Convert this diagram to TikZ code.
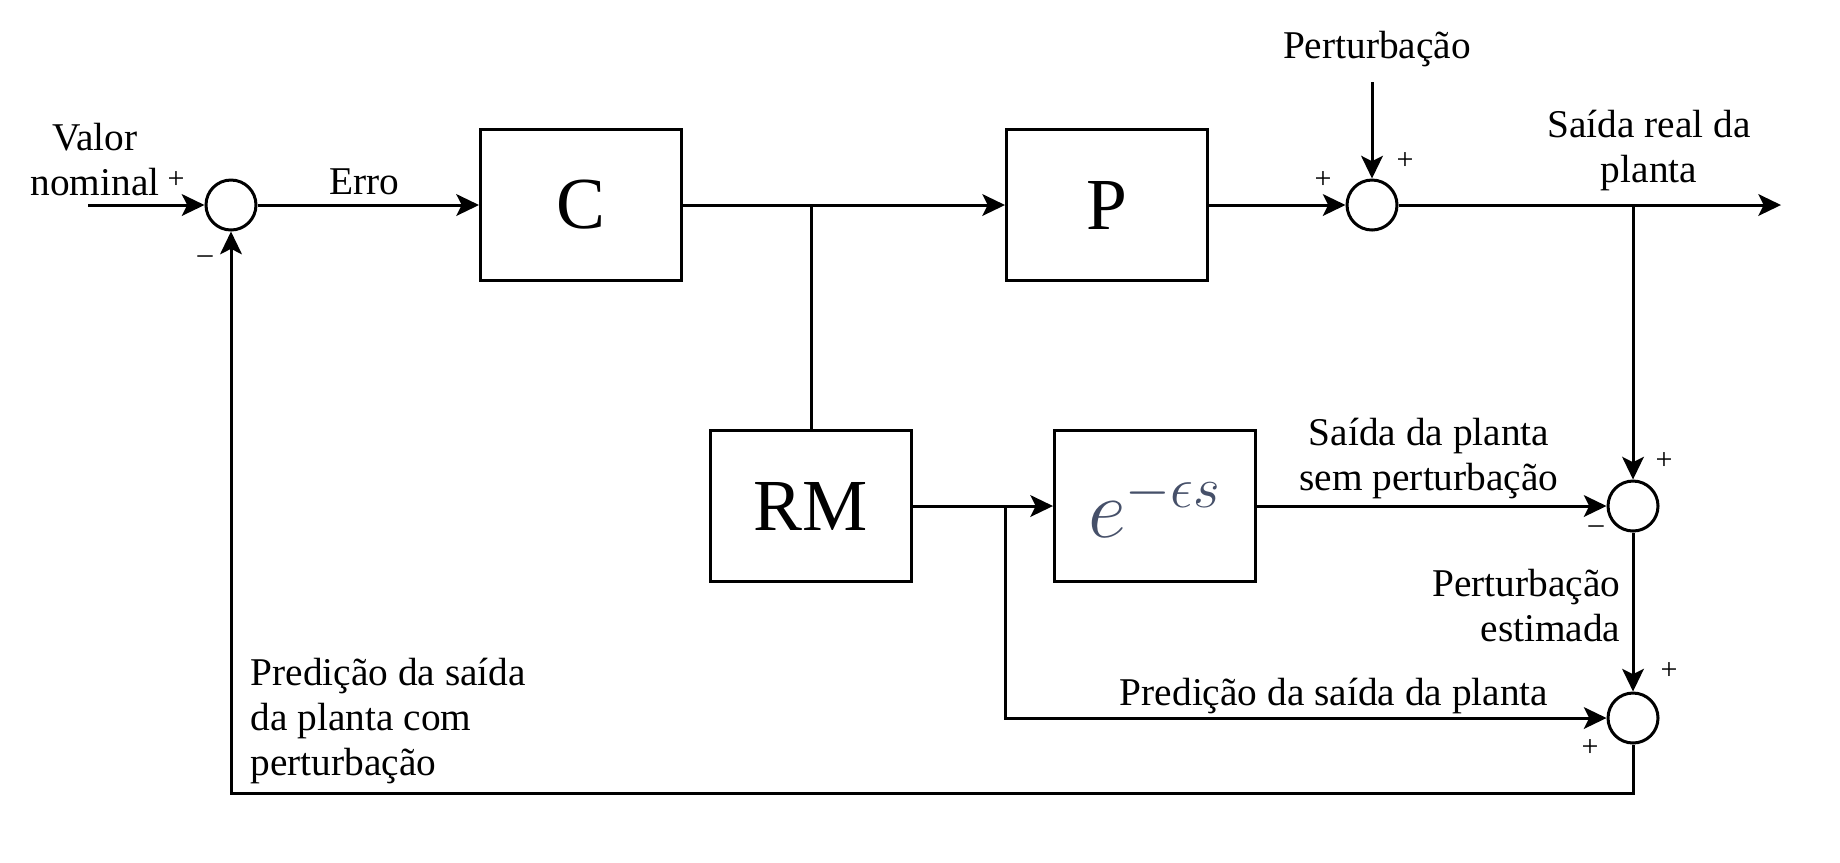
\documentclass[tikz,border=0pt]{standalone}
\usepackage{fontspec}
\setmainfont{Liberation Serif}
\usepackage{amsmath}
\usepackage{xcolor}
\usetikzlibrary{arrows.meta}
\definecolor{expcolor}{RGB}{70,80,105}

\begin{document}
\begin{tikzpicture}[x=0.3pt,y=-0.3pt,
    block/.style={draw,line width=0.9pt,minimum width=60.3pt,minimum height=45.3pt,font=\fontsize{22}{26}\selectfont},
    sum/.style={draw,circle,line width=0.9pt,minimum size=15pt,inner sep=0pt},
    lbl/.style={font=\fontsize{11.8}{13.5}\selectfont,inner sep=0pt},
    sgn/.style={font=\fontsize{9}{10}\selectfont,inner sep=0pt},
    wire/.style={line width=0.9pt},
    sig/.style={wire,-{Stealth[length=6.8pt,width=6.5pt,inset=1.6pt]}}]
    \useasboundingbox (0,0) rectangle (1840,862);
    \node[sum] (s1) at (231,205) {};
    \node[block] (C) at (581,205) {C};
    \node[block] (P) at (1107,205) {P};
    \node[sum] (s2) at (1372,205) {};
    \node[block] (RM) at (811,506) {RM};
    \node[block] (atraso) at (1155,506) {\fontsize{26}{30}\selectfont\color{expcolor}$e^{-\epsilon s}$};
    \node[sum] (s3) at (1633,506) {};
    \node[sum] (s4) at (1633,718) {};
    \coordinate (entrada) at (88,205);
    \coordinate (saida) at (1781,205);
    \coordinate (pert) at (1372,82);
    \coordinate (fundo) at (0,793);

    \draw[sig] (entrada) -- (s1);
    \draw[sig] (s1) -- (C);
    \draw[sig] (C) -- (P);
    \draw[wire] (RM |- C) -- (RM);
    \draw[sig] (P) -- (s2);
    \draw[sig] (pert) -- (s2);
    \draw[sig] (s2) -- (saida);
    \draw[sig] (s3 |- s2) -- (s3);
    \draw[sig] (RM) -- (atraso);
    \draw[sig] (atraso) -- (s3);
    \draw[sig] (s3) -- (s4);
    \draw[sig] (P.west |- RM) |- (s4);
    \draw[sig] (s4) -- (s4 |- fundo) -| (s1);

    \node[lbl,align=center] (valor) at (95,160) {Valor\\nominal};
    \node[lbl] (erro) at (364,182) {Erro};
    \node[lbl] (perturb) at (1377,49) {Perturbação};
    \node[lbl,align=center] (real) at (1649,150) {Saída real da\\planta};
    \node[lbl,align=center] (semp) at (1429,458) {Saída da planta\\sem perturbação};
    \node[lbl,align=right,anchor=east] (estim) at (1621,606) {Perturbação\\estimada};
    \node[lbl] (predp) at (1334,696) {Predição da saída da planta};
    \node[lbl,align=left,anchor=west] (predc) at (250,721) {Predição da saída\\da planta com\\perturbação};

    \node[sgn] (s1a) at (176,180) {+};
    \node[sgn] (s1b) at (205,260) {--};
    \node[sgn] (s2a) at (1323,180) {+};
    \node[sgn] (s2b) at (1405,161) {+};
    \node[sgn] (s3a) at (1664,461) {+};
    \node[sgn] (s3b) at (1596,530) {--};
    \node[sgn] (s4a) at (1669,671) {+};
    \node[sgn] (s4b) at (1590,748) {+};
\end{tikzpicture}
\end{document}
